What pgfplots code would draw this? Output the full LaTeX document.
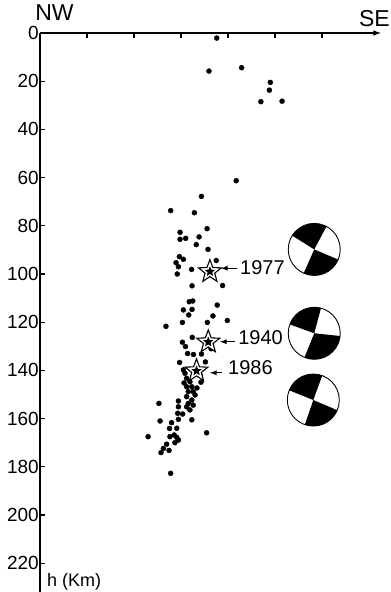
\documentclass[border=0pt]{standalone}
\usepackage{pgfplots}
\pgfplotsset{compat=1.18}
\usepackage{fontspec}
\setmainfont{Liberation Sans}

% hollow star with dark core (earthquake epicentres)
\pgfdeclareplotmark{hstar}{%
  \pgfpathmoveto{\pgfpointpolar{90}{\pgfplotmarksize}}%
  \pgfpathlineto{\pgfpointpolar{126}{0.42\pgfplotmarksize}}%
  \pgfpathlineto{\pgfpointpolar{162}{\pgfplotmarksize}}%
  \pgfpathlineto{\pgfpointpolar{198}{0.42\pgfplotmarksize}}%
  \pgfpathlineto{\pgfpointpolar{234}{\pgfplotmarksize}}%
  \pgfpathlineto{\pgfpointpolar{270}{0.42\pgfplotmarksize}}%
  \pgfpathlineto{\pgfpointpolar{306}{\pgfplotmarksize}}%
  \pgfpathlineto{\pgfpointpolar{342}{0.42\pgfplotmarksize}}%
  \pgfpathlineto{\pgfpointpolar{18}{\pgfplotmarksize}}%
  \pgfpathlineto{\pgfpointpolar{54}{0.42\pgfplotmarksize}}%
  \pgfpathclose
  \pgfsetfillcolor{white}\pgfusepath{fill,stroke}%
  \pgfpathmoveto{\pgfpointpolar{90}{0.45\pgfplotmarksize}}%
  \pgfpathlineto{\pgfpointpolar{126}{0.2\pgfplotmarksize}}%
  \pgfpathlineto{\pgfpointpolar{162}{0.45\pgfplotmarksize}}%
  \pgfpathlineto{\pgfpointpolar{198}{0.2\pgfplotmarksize}}%
  \pgfpathlineto{\pgfpointpolar{234}{0.45\pgfplotmarksize}}%
  \pgfpathlineto{\pgfpointpolar{270}{0.2\pgfplotmarksize}}%
  \pgfpathlineto{\pgfpointpolar{306}{0.45\pgfplotmarksize}}%
  \pgfpathlineto{\pgfpointpolar{342}{0.2\pgfplotmarksize}}%
  \pgfpathlineto{\pgfpointpolar{18}{0.45\pgfplotmarksize}}%
  \pgfpathlineto{\pgfpointpolar{54}{0.2\pgfplotmarksize}}%
  \pgfpathclose
  \pgfsetfillcolor{black}\pgfusepath{fill}%
}

% focal mechanism "beach balls": two black quadrants
\newcommand{\beachball}[4]{%
  \pgfpathcircle{\pgfpointorigin}{\pgfplotmarksize}%
  \pgfsetfillcolor{white}\pgfusepath{fill}%
  \pgfpathmoveto{\pgfpointorigin}%
  \pgfpathlineto{\pgfpointpolar{#1}{\pgfplotmarksize}}%
  \pgfpatharc{#1}{#2}{\pgfplotmarksize}%
  \pgfpathclose
  \pgfpathmoveto{\pgfpointorigin}%
  \pgfpathlineto{\pgfpointpolar{#3}{\pgfplotmarksize}}%
  \pgfpatharc{#3}{#4}{\pgfplotmarksize}%
  \pgfpathclose
  \pgfsetfillcolor{black}\pgfusepath{fill}%
  \pgfpathcircle{\pgfpointorigin}{\pgfplotmarksize}%
  \pgfusepath{stroke}%
}
\pgfdeclareplotmark{bbA}{\beachball{62}{148}{-114}{-23}}
\pgfdeclareplotmark{bbB}{\beachball{75}{160}{-112}{-6}}
\pgfdeclareplotmark{bbC}{\beachball{70}{158}{-109}{-23}}

\pgfplotstableread{
x y
75.2 2.1
71.9 15.8
85.8 14.4
98.0 20.5
97.6 23.7
94.0 28.5
103.0 28.3
83.5 61.3
68.7 67.8
55.6 73.7
65.7 74.6
71.1 81.2
59.6 82.7
59.6 85.6
62.0 85.2
67.7 84.6
66.5 87.8
71.5 89.8
59.3 92.8
61.0 93.9
75.0 94.4
57.9 95.3
58.9 97.0
58.4 100.0
64.5 98.1
64.7 104.9
77.7 104.8
63.5 111.5
65.0 111.2
61.0 114.9
64.7 114.7
63.3 117.0
75.4 112.9
73.6 117.4
79.7 119.3
60.6 120.1
71.2 120.1
53.6 121.7
64.8 126.3
60.6 128.3
61.9 130.1
62.8 133.0
65.3 133.4
68.7 133.2
72.8 131.0
59.4 136.7
70.4 136.5
68.1 141.9
61.7 141.2
62.4 143.3
63.8 144.7
68.5 144.9
62.4 146.8
64.6 146.8
63.1 148.8
65.2 148.8
62.4 150.9
64.6 152.3
58.9 152.7
63.1 153.7
65.2 154.4
62.4 155.1
58.9 155.1
63.8 156.4
50.6 153.7
58.6 157.8
60.7 158.1
51.1 161.0
56.0 161.7
58.9 160.3
64.6 160.5
55.1 164.1
58.2 164.0
46.0 167.5
55.3 167.5
57.1 166.8
58.2 167.8
70.9 165.9
58.9 168.9
57.4 170.0
53.9 170.6
52.5 172.4
51.5 174.1
54.9 173.2
55.6 182.7
61.0 139.8
66.0 150.2
66.8 147.3
61.3 145.2
}\quakes

\pgfplotstableread{
x y
72.3 99.0
71.6 128.2
66.6 140.2
}\mainshocks

\begin{document}
\begin{tikzpicture}
\begin{axis}[
  x=2.35pt, y=2.41pt, y dir=reverse,
  xmin=0, xmax=145, ymin=0, ymax=232,
  axis x line=top, axis y line=left,
  x axis line style={-latex, line width=1.5pt},
  y axis line style={-, line width=1.7pt},
  tick align=inside, major tick length=5pt,
  tick style={black, line width=1.2pt},
  xtick={20,40,...,120}, xticklabels={},
  ytick={0,20,...,220},
  /pgf/number format/assume math mode=true,
  yticklabel style={font=\fontsize{19}{19}\selectfont, inner sep=1pt},
  clip=false,
]
\addplot[only marks, mark=*, mark size=2.5pt, black] table {\quakes};
\addplot[only marks, mark=hstar, mark size=12pt, line width=1.1pt, black] table {\mainshocks};

\addplot[-latex, line width=1.3pt] coordinates {(83.8,97.6) (77.0,97.6)};
\addplot[-latex, line width=1.3pt] coordinates {(83.0,128.1) (76.6,128.1)};
\addplot[-latex, line width=1.3pt] coordinates {(77.4,141.0) (72.3,141.0)};

\node[anchor=west, inner sep=0pt, font=\fontsize{20}{20}\selectfont] at (axis cs:85.1,97.3) {1977};
\node[anchor=west, inner sep=0pt, font=\fontsize{20}{20}\selectfont] at (axis cs:84.3,126.3) {1940};
\node[anchor=west, inner sep=0pt, font=\fontsize{20}{20}\selectfont] at (axis cs:80.0,139.0) {1986};

\addplot[only marks, mark=bbA, mark size=26pt, line width=0.9pt, black] coordinates {(116.7,89.8)};
\addplot[only marks, mark=bbB, mark size=26pt, line width=0.9pt, black] coordinates {(116.7,124.6)};
\addplot[only marks, mark=bbC, mark size=26pt, line width=0.9pt, black] coordinates {(116.3,152.3)};

\node[anchor=base west, inner sep=0pt, font=\fontsize{23}{23}\selectfont] at (axis cs:-2.1,-5.0) {NW};
\node[anchor=base east, inner sep=0pt, font=\fontsize{23}{23}\selectfont] at (axis cs:148.9,-2.8) {SE};
\node[anchor=base west, inner sep=0pt, font=\fontsize{18}{18}\selectfont] at (axis cs:3.0,229.6) {h (Km)};

\coordinate (bbTL) at (axis cs:-17.02,-13.69);
\coordinate (bbBR) at (axis cs:148.94,231.95);
\end{axis}
\pgfresetboundingbox
\useasboundingbox (bbTL) rectangle (bbBR);
\end{tikzpicture}
\end{document}
